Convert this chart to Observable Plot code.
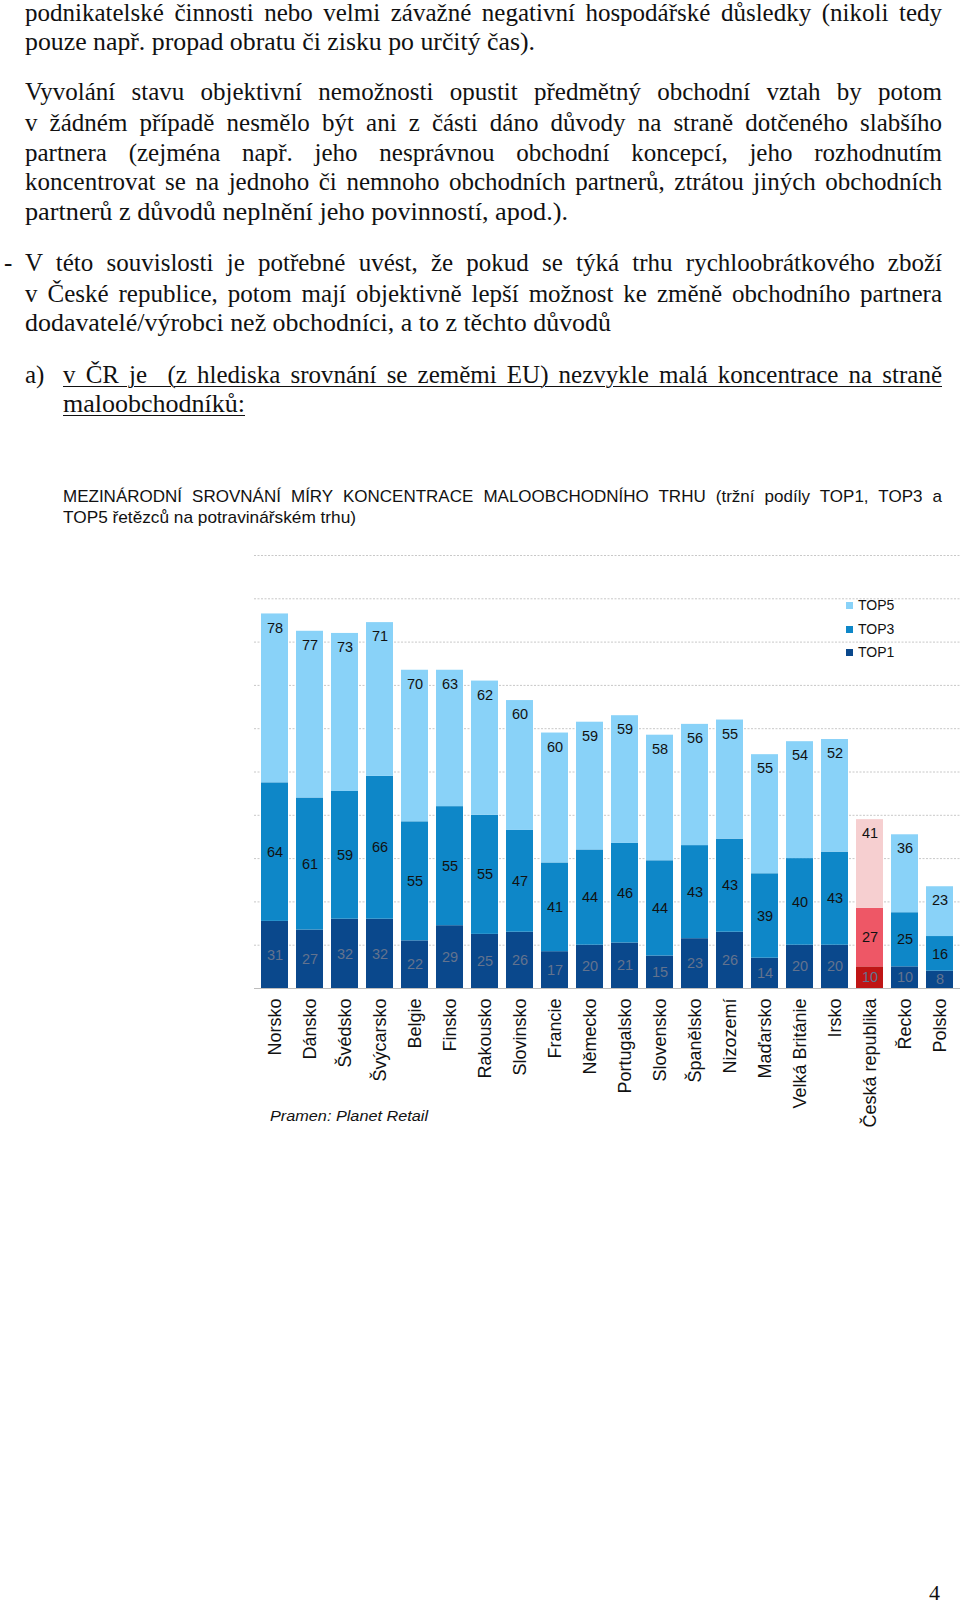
<!DOCTYPE html>
<html>
<head>
<meta charset="utf-8">
<script src="https://cdn.jsdelivr.net/npm/d3@7"></script>
<script src="https://cdn.jsdelivr.net/npm/@observablehq/plot@0.6"></script>
<style>
  html, body { margin: 0; padding: 0; background: #fff; }
  body { width: 960px; height: 1604px; position: relative; overflow: hidden; }
  .ln { position: absolute; white-space: nowrap; transform-origin: 0 50%; color: #111; }
  .serif { font-family: "Liberation Serif", "Times New Roman", serif; font-size: 25px; line-height: 30px; }
  .sans { font-family: "Liberation Sans", Arial, sans-serif; font-size: 17px; line-height: 21px; }
  .ul { text-decoration: underline; text-decoration-thickness: 1px; text-underline-offset: 3px; }
  #chart { position: absolute; left: 0; top: 540px; }
  .leg { position: absolute; font-family: "Liberation Sans", Arial, sans-serif; font-size: 14px; line-height: 16px; color: #111; }
  .sw { position: absolute; width: 7px; height: 7px; }
</style>
</head>
<body>
<div id="chart"></div>
<script>
// ---- data ----
const countries = ["Norsko","Dánsko","Švédsko","Švýcarsko","Belgie","Finsko","Rakousko","Slovinsko","Francie","Německo","Portugalsko","Slovensko","Španělsko","Nizozemí","Maďarsko","Velká Británie","Irsko","Česká republika","Řecko","Polsko"];
const top1 = [31,27,32,32,22,29,25,26,17,20,21,15,23,26,14,20,20,10,10,8];
const top3 = [64,61,59,66,55,55,55,47,41,44,46,44,43,43,39,40,43,27,25,16];
const top5 = [78,77,73,71,70,63,62,60,60,59,59,58,56,55,55,54,52,41,36,23];
const seriesNames = ["TOP1","TOP3","TOP5"];
const highlight = "Česká republika";
const gridTicks = [20,40,60,80,100,120,140,160,180,200];
const blueColors = ["#0a488c","#0e87c8","#89d2f8"];
const redColors = ["#bf1515","#ee5766","#f6cfd0"];

// ---- tidy table ----
const rows = [];
countries.forEach((c, i) => {
  [top1[i], top3[i], top5[i]].forEach((v, k) => {
    rows.push({country: c, series: seriesNames[k], value: v,
               key: (c === highlight ? "CZ-" : "") + seriesNames[k]});
  });
});

const font = "'Liberation Sans', Arial, sans-serif";
const stackOpts = {x: "country", y: "value", z: "series", order: seriesNames};

const chart = Plot.plot({
  width: 960,
  height: 600,
  marginTop: 15,
  marginBottom: 152,
  marginLeft: 254,
  marginRight: 0,
  style: {fontFamily: font, fontSize: "18px", color: "#111", background: "transparent", overflow: "visible"},
  x: {domain: countries, paddingInner: 0.225, paddingOuter: 0.12, tickRotate: -90, tickSize: 0, tickPadding: 10, label: null},
  y: {domain: [0, 200], axis: null},
  color: {domain: ["TOP1","TOP3","TOP5","CZ-TOP1","CZ-TOP3","CZ-TOP5"], range: [...blueColors, ...redColors]},
  marks: [
    Plot.ruleY(gridTicks, {stroke: "#c8c8c8", strokeDasharray: "2,1.5", strokeWidth: 1}),
    Plot.barY(rows, Plot.stackY({...stackOpts, fill: "key"})),
    Plot.ruleY([0], {stroke: "#bdbdbd", strokeWidth: 1}),
    Plot.text(rows, Plot.stackY({...stackOpts,
      text: d => d.series === "TOP5" ? "" : String(d.value),
      fill: d => d.series === "TOP1" ? "#63738e" : "#111",
      fontSize: 14.5, fontFamily: font})),
    Plot.text(rows, Plot.stackY2({...stackOpts,
      text: d => d.series === "TOP5" ? String(d.value) : "",
      fill: "#111", dy: 14, fontSize: 14.5, fontFamily: font}))
  ]
});
document.getElementById("chart").appendChild(chart);

// ---- legend (inside chart, top right) ----
const legendItems = [["TOP5", blueColors[2], 605], ["TOP3", blueColors[1], 629], ["TOP1", blueColors[0], 652]];
legendItems.forEach(([name, col, cy]) => {
  const sw = document.createElement("div");
  sw.className = "sw"; sw.style.background = col;
  sw.style.left = "846px"; sw.style.top = (cy - 3.5) + "px";
  document.body.appendChild(sw);
  const t = document.createElement("div");
  t.className = "leg"; t.textContent = name;
  t.style.left = "858px"; t.style.top = (cy - 8) + "px";
  document.body.appendChild(t);
});

// ---- page text ----
const lines = [
  {t: "podnikatelské činnosti nebo velmi závažné negativní hospodářské důsledky (nikoli tedy", l: 25, r: 942, cy: 12.5, j: true, c: "serif"},
  {t: "pouze např. propad obratu či zisku po určitý čas).", l: 25, r: 535, cy: 42, j: false, c: "serif"},
  {t: "Vyvolání stavu objektivní nemožnosti opustit předmětný obchodní vztah by potom", l: 25, r: 942, cy: 92, j: true, c: "serif"},
  {t: "v\u00a0žádném případě nesmělo být ani z\u00a0části dáno důvody na straně dotčeného slabšího", l: 25, r: 942, cy: 122.5, j: true, c: "serif"},
  {t: "partnera (zejména např. jeho nesprávnou obchodní koncepcí, jeho rozhodnutím", l: 25, r: 942, cy: 152.5, j: true, c: "serif"},
  {t: "koncentrovat se na jednoho či nemnoho obchodních partnerů, ztrátou jiných obchodních", l: 25, r: 942, cy: 182, j: true, c: "serif"},
  {t: "partnerů z důvodů neplnění jeho povinností, apod.).", l: 25, r: 568, cy: 212, j: false, c: "serif"},
  {t: "-", l: 4, r: 0, cy: 263, j: false, c: "serif"},
  {t: "V této souvislosti je potřebné uvést, že pokud se týká trhu rychloobrátkového zboží", l: 25, r: 942, cy: 263, j: true, c: "serif"},
  {t: "v\u00a0České republice, potom mají objektivně lepší možnost ke změně obchodního partnera", l: 25, r: 942, cy: 293.5, j: true, c: "serif"},
  {t: "dodavatelé/výrobci než obchodníci, a to z těchto důvodů", l: 25, r: 611, cy: 323, j: false, c: "serif"},
  {t: "a)", l: 25, r: 0, cy: 374.5, j: false, c: "serif"},
  {t: "v\u00a0ČR je\u00a0 (z hlediska srovnání se zeměmi EU) nezvykle malá koncentrace na straně", l: 63, r: 942, cy: 374.5, j: true, c: "serif ul"},
  {t: "maloobchodníků:", l: 63, r: 245, cy: 404, j: false, c: "serif ul"},
  {t: "MEZINÁRODNÍ SROVNÁNÍ MÍRY KONCENTRACE MALOOBCHODNÍHO TRHU (tržní podíly TOP1, TOP3 a", l: 63, r: 942, cy: 496, j: true, c: "sans"},
  {t: "TOP5 řetězců na potravinářském trhu)", l: 63, r: 356, cy: 517, j: false, c: "sans"},
  {t: "Pramen: Planet Retail", l: 270, r: 428, cy: 1115, j: false, c: "sans", style: "font-style:italic;font-size:15px;"},
  {t: "4", l: 929, r: 0, cy: 1593, j: false, c: "serif", style: "font-size:22px;"}
];

lines.forEach(o => {
  const el = document.createElement("div");
  el.className = "ln " + o.c;
  el.textContent = o.t;
  if (o.style) el.setAttribute("style", o.style);
  document.body.appendChild(el);
  const h = el.getBoundingClientRect().height;
  el.style.left = o.l + "px";
  el.style.top = (o.cy - h / 2) + "px";
  const w = el.getBoundingClientRect().width;
  if (!o.r) return;
  const target = o.r - o.l;
  if (o.j) {
    const n = (o.t.match(/[ \u00a0]/g) || []).length;
    let ws = (target - w) / n;
    if (ws < -1) {
      ws = -1;
      const w2 = w + n * ws;
      el.style.transform = `scaleX(${target / w2})`;
    }
    el.style.wordSpacing = ws + "px";
    const w3 = el.getBoundingClientRect().width;
    if (Math.abs(w3 - target) > 1 && !el.style.transform) {
      el.style.transform = `scaleX(${target / w3})`;
    }
  } else {
    const s = target / w;
    if (s > 0.8 && s < 1.2) el.style.transform = `scaleX(${s})`;
  }
});
</script>
</body>
</html>
